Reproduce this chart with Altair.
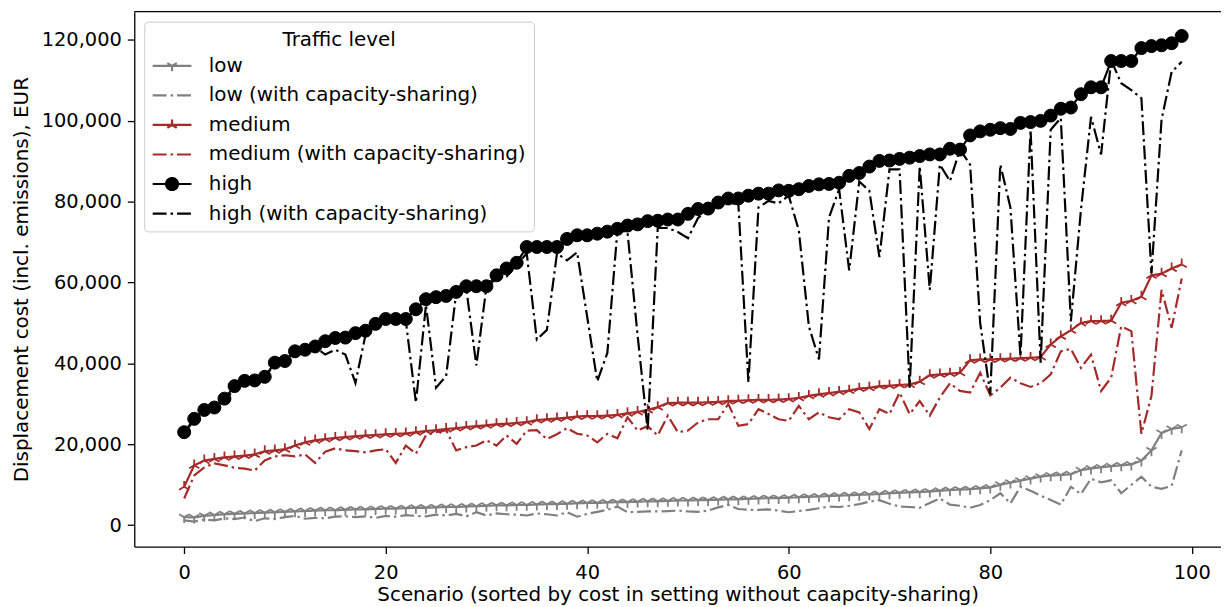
import altair as alt
import pandas as pd

scenario = list(range(100))

low = [2000, 1900, 2300, 2500, 2700, 2800, 2900, 3000, 3100, 3200,
       3300, 3400, 3500, 3600, 3700, 3700, 3800, 3900, 3900, 4000,
       4100, 4100, 4200, 4300, 4300, 4400, 4500, 4500, 4600, 4700,
       4800, 4900, 4900, 5000, 5000, 5100, 5200, 5200, 5300, 5400,
       5500, 5500, 5600, 5700, 5700, 5800, 5900, 5900, 6000, 6100,
       6100, 6200, 6200, 6300, 6400, 6400, 6500, 6600, 6700, 6700,
       6800, 6900, 7000, 7100, 7200, 7300, 7400, 7500, 7600, 7700,
       7900, 8000, 8100, 8200, 8300, 8500, 8700, 8800, 8900, 9100,
       9300, 10000, 10500, 11000, 11500, 12000, 12300, 12400, 12600, 13600,
       14000, 14300, 14600, 14800, 15000, 16000, 18500, 22800, 23800, 24200]

low_cs = [1200, 900, 1400, 1200, 1700, 1500, 1900, 1000, 1700, 1500,
          2000, 2300, 1600, 1800, 1700, 2100, 2200, 2000, 2200, 1800,
          2300, 2100, 2500, 2300, 2200, 2600, 2400, 2800, 2200, 3200,
          2400, 2900, 2700, 2600, 2400, 2900, 2700, 2400, 3200, 2100,
          2800, 3300, 3800, 4600, 3200, 3300, 3400, 3400, 3500, 3600,
          3400, 3300, 3600, 4400, 5000, 4000, 3800, 3800, 3900, 3600,
          3200, 3500, 3800, 4200, 4600, 4500, 4800, 5200, 5800, 6200,
          5300, 4600, 4500, 4300, 5500, 6600, 5100, 4800, 4300, 5000,
          6200, 7900, 5400, 9500, 8500, 7300, 6200, 5100, 9500, 7700,
          11500, 10600, 11100, 7900, 10000, 12000, 9500, 9000, 9700, 18500]

medium = [9500, 14800, 16000, 16400, 16800, 17000, 17200, 17500, 18300, 18500,
          18800, 19700, 20500, 21000, 21300, 21600, 21800, 22000, 22200, 22300,
          22500, 22600, 22700, 23000, 23300, 23500, 23800, 24000, 24300, 24500,
          24700, 25000, 25100, 25300, 25500, 26000, 26200, 26400, 26600, 26900,
          27000, 27000, 27100, 27300, 27700, 28000, 28500, 29200, 30200, 30300,
          30300, 30300, 30400, 30500, 30700, 30800, 30900, 31000, 31000, 31100,
          31200, 31500, 32000, 32400, 32700, 33000, 33300, 33800, 34000, 34400,
          34500, 34700, 34800, 35500, 37100, 37300, 37500, 37700, 40800, 41000,
          41000, 41100, 41200, 41300, 41400, 41600, 44700, 46700, 48200, 50000,
          50500, 50500, 50600, 55000, 55500, 56500, 61800, 62200, 63500, 64500]

medium_cs = [6600, 12300, 14300, 15300, 14800, 14200, 14000, 13500, 16000, 17000,
             17300, 17000, 17500, 15400, 18200, 19000, 18500, 18300, 18000, 18500,
             18800, 15400, 19700, 17700, 22200, 23000, 23500, 18500, 19300, 19700,
             21000, 19700, 22200, 20100, 23400, 23500, 21300, 22500, 24000, 22600,
             22200, 20500, 22600, 21500, 26700, 23400, 24500, 22200, 27100, 23000,
             23400, 25400, 26200, 26200, 30000, 24600, 25000, 28700, 27500, 26200,
             25800, 29500, 26200, 27900, 26700, 26200, 28700, 27900, 23800, 28700,
             27500, 32800, 27500, 30700, 27100, 31600, 35100, 33200, 32800, 37700,
             32100, 34000, 36500, 35100, 34200, 35100, 37300, 43000, 43600, 38900,
             42200, 33200, 36500, 49200, 48000, 22600, 32000, 58200, 48800, 61000]

high = [23000, 26300, 28500, 29100, 31300, 34400, 35700, 35800, 36700, 40200,
        40600, 43000, 43400, 44200, 45500, 46300, 46400, 47500, 48100, 49800,
        51000, 51000, 51000, 53400, 55900, 56400, 56700, 57700, 59100, 59100,
        59100, 61800, 63500, 64900, 68800, 68800, 68800, 68800, 70800, 71700,
        71700, 72100, 72600, 73300, 74100, 74400, 75200, 75300, 75600, 75600,
        77000, 78200, 78300, 79800, 80800, 80800, 81500, 82000, 82000, 82800,
        82700, 83100, 83900, 84300, 84400, 84700, 86400, 87100, 88700, 90100,
        90200, 90600, 90900, 91300, 91700, 91700, 93100, 92900, 96400, 97400,
        97800, 98200, 98000, 99500, 99700, 100000, 101300, 103000, 103300, 106600,
        108300, 108300, 114800, 114800, 114800, 118000, 118500, 118700, 119200, 121000]

high_cs = [22800, 26000, 28300, 29000, 31000, 33500, 35500, 35600, 36500, 40000,
           40400, 42800, 43200, 44000, 42200, 43400, 42200, 35200, 47100, 49500,
           50500, 50500, 50500, 30300, 54500, 34000, 36900, 57500, 58500, 39500,
           59000, 61000, 61500, 64500, 67200, 45900, 48300, 67200, 65500, 67500,
           51500, 35600, 42600, 73000, 72500, 47000, 23500, 73500, 73500, 72500,
           71000, 76000, 78000, 79000, 79500, 79500, 35300, 78600, 80200, 79600,
           81500, 72900, 49200, 41000, 76100, 83100, 63000, 85000, 82700, 66300,
           88000, 88000, 34000, 88800, 58200, 89200, 85100, 92900, 89200, 50000,
           32400, 89200, 78600, 41800, 97800, 40200, 97800, 100700, 50400, 78000,
           101000, 91700, 115000, 109300, 107600, 105600, 62300, 100300, 112100, 114600]

series_names = ["low", "low (with capacity-sharing)", "medium",
                "medium (with capacity-sharing)", "high", "high (with capacity-sharing)"]
series_values = [low, low_cs, medium, medium_cs, high, high_cs]
series_colors = ["#808080", "#808080", "#a52a2a", "#a52a2a", "#000000", "#000000"]
x_ticks = [0, 20, 40, 60, 80, 100]
y_ticks = [0, 20000, 40000, 60000, 80000, 100000, 120000]

rows = []
for name, vals in zip(series_names, series_values):
    for s_, v in zip(scenario, vals):
        rows.append({"scenario": s_, "cost": v, "series": name})
df = pd.DataFrame(rows)

SOLID = [1, 0]
DASHDOT = [14, 4, 2.5, 4]
series_dashes = [SOLID, DASHDOT, SOLID, DASHDOT, SOLID, DASHDOT]

TRI_DOWN = "M0,0L0,1M0,0L-0.866,-0.5M0,0L0.866,-0.5"
TRI_UP = "M0,0L0,-1M0,0L-0.866,0.5M0,0L0.866,0.5"

# legend glyphs: line sample plus marker (unit = 10 px with symbolSize 400)
s = 0.85
L = 1.95
def seg():
    return f"M{-L+s:.3f},0L{L+s:.3f},0"
leg_low = seg() + f"M{s:.3f},0L{s:.3f},0.55M{s:.3f},0L{s-0.476:.3f},-0.275M{s:.3f},0L{s+0.476:.3f},-0.275"
leg_med = seg() + f"M{s:.3f},0L{s:.3f},-0.55M{s:.3f},0L{s-0.476:.3f},0.275M{s:.3f},0L{s+0.476:.3f},0.275"
leg_high = seg() + f"M{s+0.6:.3f},0A0.6,0.6,0,1,1,{s-0.6:.3f},0A0.6,0.6,0,1,1,{s+0.6:.3f},0Z"
leg_shapes = [leg_low, seg(), leg_med, seg(), leg_high, seg()]

stroke_scale = alt.Scale(domain=series_names, range=series_colors)
dash_scale = alt.Scale(domain=series_names, range=series_dashes)
shape_scale = alt.Scale(domain=series_names, range=leg_shapes)

x_scale = alt.Scale(domain=[-4.95, 102.9], nice=False, zero=False)
y_scale = alt.Scale(domain=[-5300, 127000], nice=False, zero=False)

base = alt.Chart(df)

leg_title = "Traffic level"
def leg():
    return alt.Legend(title=leg_title, orient="none", legendX=10, legendY=10)

# legend-only layer (no marks drawn), listed first so its legend settings win
legend_layer = base.transform_filter("false").mark_point(filled=True, opacity=1).encode(
    x=alt.X("scenario:Q", scale=x_scale),
    y=alt.Y("cost:Q", scale=y_scale),
    stroke=alt.Stroke("series:N", scale=stroke_scale, legend=leg()),
    fill=alt.Fill("series:N", scale=stroke_scale, legend=leg()),
    shape=alt.Shape("series:N", scale=shape_scale, legend=leg()),
    strokeDash=alt.StrokeDash("series:N", scale=dash_scale, legend=leg()),
)

lines = base.transform_filter(
    alt.datum.series != "high (with capacity-sharing)"
).mark_line(strokeWidth=2.2).encode(
    x=alt.X("scenario:Q", scale=x_scale,
            axis=alt.Axis(values=x_ticks, title="Scenario (sorted by cost in setting without caapcity-sharing)",
                          grid=False, tickSize=7, labelPadding=10, titlePadding=3)),
    y=alt.Y("cost:Q", scale=y_scale,
            axis=alt.Axis(values=y_ticks, format=",d", title="Displacement cost (incl. emissions), EUR",
                          grid=False, tickSize=7, labelPadding=6, titlePadding=10)),
    stroke=alt.Stroke("series:N", scale=stroke_scale, legend=None),
    strokeDash=alt.StrokeDash("series:N", scale=dash_scale, legend=None),
    order=alt.Order("scenario:Q"),
)

def marker_layer(name, shape, color, size, filled):
    if filled:
        mk = base.mark_point(shape=shape, size=size, filled=True, color=color, opacity=1,
                             stroke=color, strokeWidth=1)
    else:
        mk = base.mark_point(shape=shape, size=size, filled=False, color=color, opacity=1,
                             strokeWidth=1.8)
    return mk.transform_filter(alt.datum.series == name).encode(
        x=alt.X("scenario:Q", scale=x_scale),
        y=alt.Y("cost:Q", scale=y_scale),
    )

m_low = marker_layer("low", TRI_DOWN, "#808080", 140, False)
m_med = marker_layer("medium", TRI_UP, "#a52a2a", 140, False)
m_high = marker_layer("high", "circle", "#000000", 170, True)

high_cs_line = base.transform_filter(
    alt.datum.series == "high (with capacity-sharing)"
).mark_line(strokeWidth=2.2, color="#000000", strokeDash=DASHDOT).encode(
    x=alt.X("scenario:Q", scale=x_scale),
    y=alt.Y("cost:Q", scale=y_scale),
    order=alt.Order("scenario:Q"),
)

# top spine of the frame
top_spine = alt.Chart().mark_rule(color="black", strokeWidth=1.3).encode(
    x=alt.value(0), x2=alt.value(1093), y=alt.value(0)
)

chart = alt.layer(legend_layer, lines, m_low, m_med, m_high, high_cs_line, top_spine).properties(
    width=1093, height=538,
    autosize=alt.AutoSizeParams(type="none"),
    padding={"left": 127, "top": 2, "right": 0, "bottom": 58},
).configure(
    font="DejaVu Sans",
).configure_view(
    stroke=None,
).configure_axis(
    labelFontSize=19.5, titleFontSize=20, titleFontWeight="normal",
    labelColor="black", titleColor="black", tickColor="black", domainColor="black",
    domainWidth=1.3, tickWidth=1.3, labelFont="DejaVu Sans", titleFont="DejaVu Sans",
).configure_legend(
    orient="none", legendX=10, legendY=10, padding=8,
    strokeColor="#cccccc", cornerRadius=4, fillColor="white",
    titleFontSize=20, labelFontSize=20, titleFontWeight="normal", titleAnchor="middle",
    titleColor="black", labelColor="black", labelLimit=500,
    symbolSize=400, symbolStrokeWidth=2.2, rowPadding=7.7, labelOffset=34, titlePadding=5,
    titleFont="DejaVu Sans", labelFont="DejaVu Sans",
)

chart.save("out.html", embed_options={"renderer": "svg", "actions": False})
